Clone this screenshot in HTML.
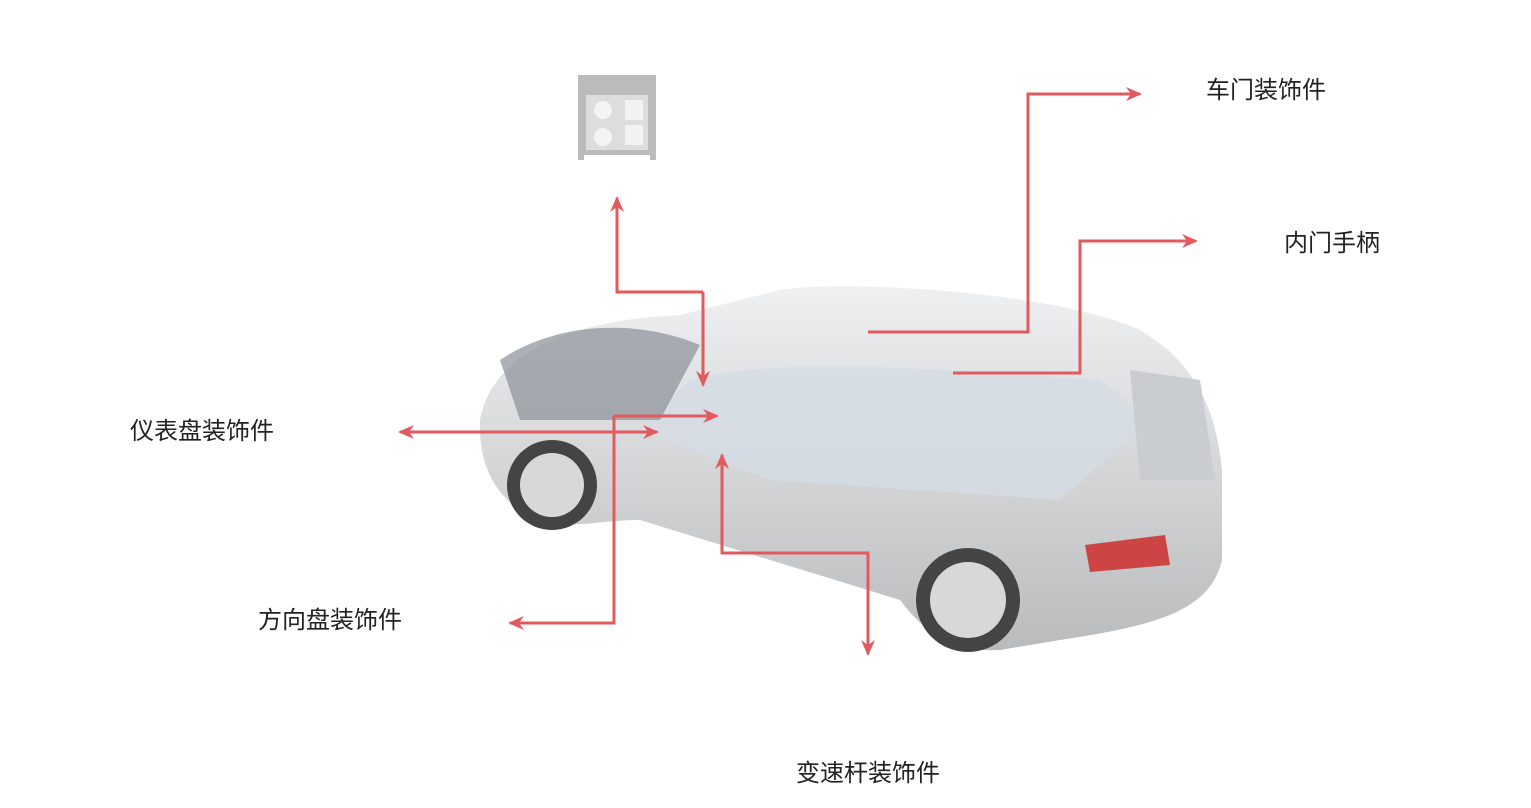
<!DOCTYPE html>
<html><head><meta charset="utf-8"><style>
body{margin:0;width:1531px;height:808px;background:#fff;overflow:hidden;position:relative;font-family:"Liberation Sans","Noto Sans CJK SC",sans-serif}
.t{position:absolute;font-size:24px;line-height:28px;color:#222;white-space:nowrap}
svg{position:absolute;left:0;top:0}
</style></head><body>
<svg width="1531" height="808">
<defs>
<linearGradient id="b" x1="0" y1="0" x2="0" y2="1"><stop offset="0" stop-color="#eef0f2"/><stop offset="1" stop-color="#b9bbbc"/></linearGradient>
<marker id="a" markerWidth="16" markerHeight="14" refX="14" refY="7" orient="auto" markerUnits="userSpaceOnUse"><path d="M0,0 L16,7 L0,14 L5,7z" fill="#e05a5e"/></marker>
</defs>
<path d="M578,75 h78 v85 h-6 v-5 h-66 v5 h-6z" fill="#bbb"/>
<rect x="586" y="95" width="62" height="55" fill="#ddd"/>
<circle cx="603" cy="110" r="9" fill="#f4f4f4"/><circle cx="603" cy="137" r="9" fill="#f4f4f4"/>
<rect x="625" y="100" width="18" height="20" fill="#f2f2f2"/><rect x="625" y="125" width="18" height="20" fill="#f2f2f2"/>
<path d="M480,420 C490,360 560,320 680,315 L780,290 C840,280 1050,290 1140,330 C1190,360 1215,400 1222,470 L1222,560 C1210,610 1160,625 1060,640 L1000,650 C960,652 930,640 900,600 L640,520 C600,520 570,530 540,520 C500,505 478,470 480,420z" fill="url(#b)"/>
<path d="M690,380 C760,360 900,365 1100,380 L1150,420 L1060,500 L770,480 L640,430z" fill="#d5dce3" opacity=".8"/>
<path d="M500,360 C560,320 640,320 700,345 L660,420 L520,420z" fill="#8a9099" opacity=".7"/>
<path d="M1130,370 L1200,380 L1215,480 L1140,480z" fill="#c9cdd1"/>
<path d="M1085,545 L1165,535 L1170,565 L1090,572z" fill="#c44"/>
<circle cx="552" cy="485" r="45" fill="#444"/><circle cx="552" cy="485" r="32" fill="#d8d8d8"/>
<circle cx="968" cy="600" r="52" fill="#444"/><circle cx="968" cy="600" r="38" fill="#d8d8d8"/>
<g fill="none" stroke="#e05a5e" stroke-width="3">
<path d="M703,292 H617 V198" marker-end="url(#a)"/>
<path d="M703,292 V385" marker-end="url(#a)"/>
<path d="M655,432 H400" marker-end="url(#a)"/>
<path d="M560,432 H657" marker-end="url(#a)"/>
<path d="M614,416 V623 H510" marker-end="url(#a)"/>
<path d="M614,416 H717" marker-end="url(#a)"/>
<path d="M868,553 H722 V455" marker-end="url(#a)"/>
<path d="M722,553 H868 V654" marker-end="url(#a)"/>
<path d="M868,332 H1028 V94 H1140" marker-end="url(#a)"/>
<path d="M953,373 H1080 V241 H1196" marker-end="url(#a)"/>
</g>
</svg>
<div class="t" style="left:1206px;top:77px">车门装饰件</div>
<div class="t" style="left:1284px;top:230px">内门手柄</div>
<div class="t" style="left:130px;top:418px">仪表盘装饰件</div>
<div class="t" style="left:258px;top:607px">方向盘装饰件</div>
<div class="t" style="left:796px;top:760px">变速杆装饰件</div>
</body></html>
